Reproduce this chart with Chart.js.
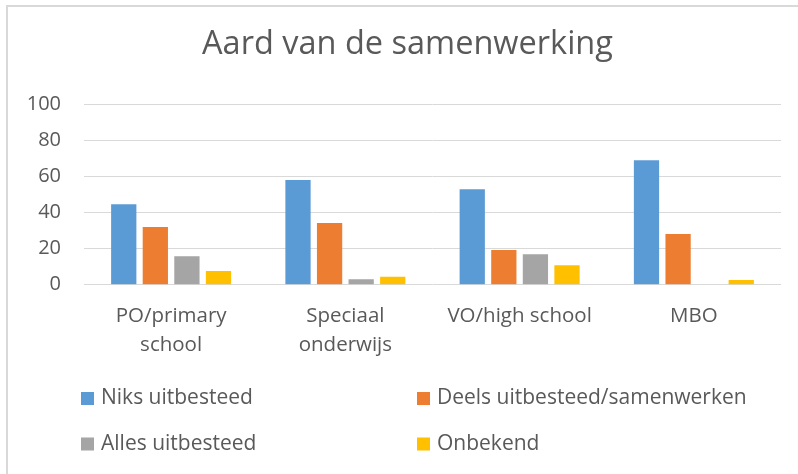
<!DOCTYPE html>
<html>
<head>
<meta charset="utf-8">
<script src="https://cdn.jsdelivr.net/npm/chart.js@4"></script>
<style>
html,body{margin:0;padding:0;background:#fff;}
#wrap{width:798px;height:474px;position:relative;}
</style>
</head>
<body>
<div id="wrap"><canvas id="c" width="798" height="474"></canvas></div>
<script>
// ---- data ----
const chartTitle = "Aard van de samenwerking";
const categories = [["PO/primary", "school"], ["Speciaal", "onderwijs"], "VO/high school", "MBO"];
const seriesNames = ["Niks uitbesteed", "Deels uitbesteed/samenwerken", "Alles uitbesteed", "Onbekend"];
const niksUitbesteed = [44.7, 58.2, 53.0, 69.1];
const deelsUitbesteed = [32.0, 34.3, 19.3, 28.2];
const allesUitbesteed = [15.8, 3.0, 16.9, 0];
const onbekend = [7.6, 4.4, 10.8, 2.6];
const yMin = 0, yMax = 100, yStep = 20;
const seriesColors = ["#5B9BD5", "#ED7D31", "#A5A5A5", "#FFC000"];

const FONT = "'Open Sans', Lato, sans-serif";
const TEXT = "#595959";

const frameAndLabels = {
  id: "frameAndLabels",
  beforeDraw(chart) {
    const ctx = chart.ctx;
    ctx.save();
    ctx.strokeStyle = "#d9d9d9";
    ctx.lineWidth = 2;
    ctx.beginPath();
    ctx.moveTo(7, 474);
    ctx.lineTo(7, 6);
    ctx.lineTo(798, 6);
    ctx.stroke();
    ctx.restore();
  },
  afterDraw(chart) {
    const ctx = chart.ctx;
    ctx.save();
    // title
    ctx.fillStyle = TEXT;
    ctx.font = "32.5px " + FONT;
    ctx.textAlign = "center";
    ctx.textBaseline = "alphabetic";
    ctx.fillText(chartTitle, 407.5, 54);
    // legend (2 columns)
    const colX = [81, 417];
    const rowY = [398.5, 444];
    ctx.font = "21px " + FONT;
    ctx.textAlign = "left";
    ctx.textBaseline = "middle";
    chart.data.datasets.forEach((ds, i) => {
      const x = colX[i % 2], y = rowY[Math.floor(i / 2)];
      ctx.fillStyle = ds.backgroundColor;
      ctx.fillRect(x, y - 6.5, 13, 13);
      ctx.fillStyle = TEXT;
      ctx.fillText(ds.label, x + 20, y);
    });
    ctx.restore();
  }
};

const seriesData = [niksUitbesteed, deelsUitbesteed, allesUitbesteed, onbekend];

new Chart(document.getElementById("c"), {
  type: "bar",
  data: {
    labels: categories,
    datasets: seriesNames.map((name, i) => ({
      label: name,
      data: seriesData[i],
      backgroundColor: seriesColors[i],
      borderWidth: 0,
      categoryPercentage: 0.725,
      barPercentage: 0.8
    }))
  },
  options: {
    responsive: false,
    animation: false,
    layout: { padding: { left: 0, top: 104.7, right: 17, bottom: 109.3 } },
    plugins: {
      legend: { display: false },
      title: { display: false },
      tooltip: { enabled: false }
    },
    scales: {
      x: {
        grid: { display: false, drawTicks: false },
        border: { display: false },
        ticks: {
          color: TEXT,
          font: { family: FONT, size: 20.5, lineHeight: 1.46 },
          padding: 16,
          maxRotation: 0,
          autoSkip: false
        },
        afterFit(scale) { scale.height = 80; }
      },
      y: {
        min: yMin,
        max: yMax,
        grid: { color: "#d9d9d9", lineWidth: 1, drawTicks: false },
        border: { display: false },
        ticks: {
          stepSize: yStep,
          color: TEXT,
          font: { family: FONT, size: 20 },
          padding: 23
        },
        afterFit(scale) { scale.width = 84; }
      }
    }
  },
  plugins: [frameAndLabels]
});
</script>
</body>
</html>
